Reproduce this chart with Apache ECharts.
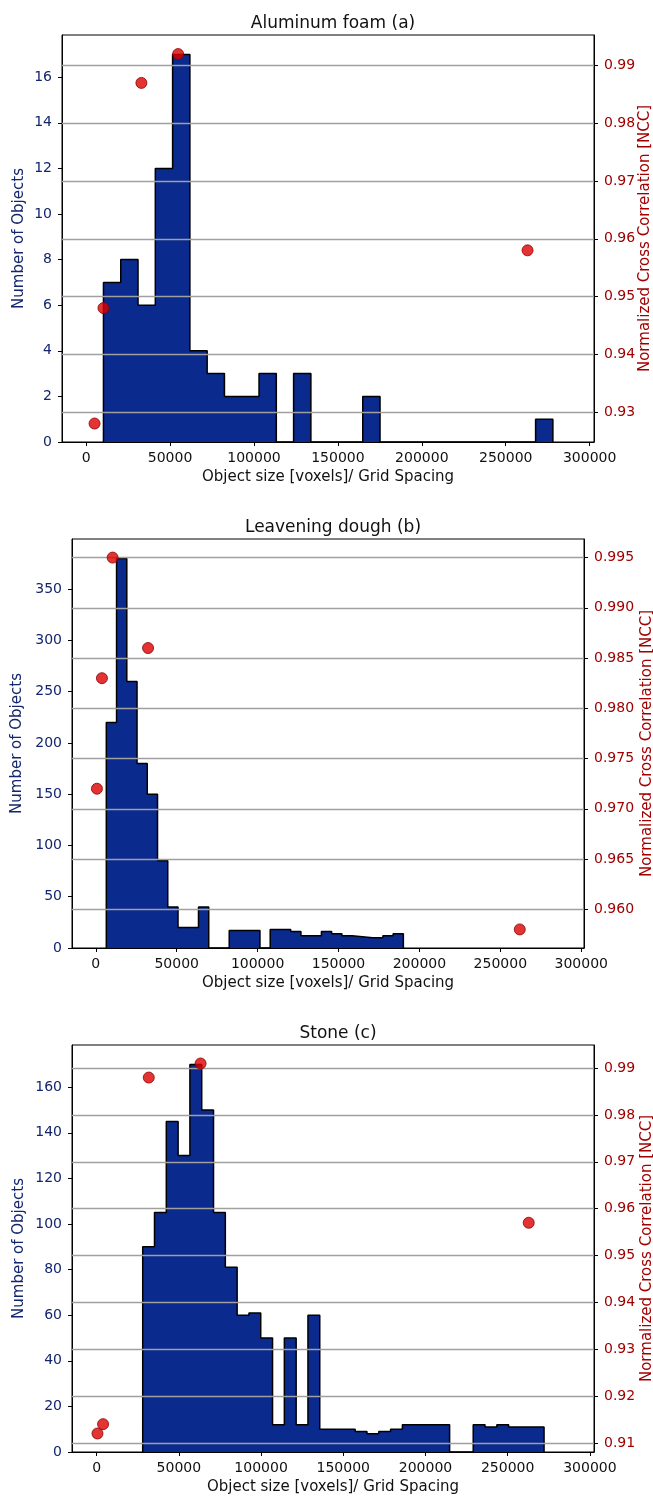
<!DOCTYPE html>
<html><head><meta charset="utf-8">
<script src="https://cdn.jsdelivr.net/npm/echarts@6/dist/echarts.min.js"></script>
<style>html,body{margin:0;padding:0;background:#fff}#c{width:653px;height:1496px}</style>
</head><body><div id="c"></div>
<script>
// ---------- data ----------
const panelTitles = ['Aluminum foam (a)', 'Leavening dough (b)', 'Stone (c)'];
const xAxisName = 'Object size [voxels]/ Grid Spacing';
const leftAxisName = 'Number of Objects';
const rightAxisName = 'Normalized Cross Correlation [NCC]';
const xTickValues = [0, 50000, 100000, 150000, 200000, 250000, 300000];

// (a) Aluminum foam
const foamBinStart = 10300;
const foamBinWidth = 10300;
const foamCounts = [7, 8, 6, 12, 17, 4, 3, 2, 2, 3, 0, 3, 0, 0, 0, 2, 0, 0, 0, 0, 0, 0, 0, 0, 0, 1];
const foamNccSize = [5000, 10300, 32900, 54800, 263000];
const foamNcc = [0.928, 0.948, 0.987, 0.992, 0.958];
const foamCountTicks = [0, 2, 4, 6, 8, 10, 12, 14, 16];
const foamNccTicks = [0.93, 0.94, 0.95, 0.96, 0.97, 0.98, 0.99];

// (b) Leavening dough
const doughBinStart = 6500;
const doughBinWidth = 6330;
const doughCounts = [220, 380, 260, 180, 150, 85, 40, 20, 20, 40, 0, 0, 17, 17, 17, 0, 18, 18, 16, 12, 12, 16, 14, 12, 11, 10, 10, 12, 14];
const doughNccSize = [700, 3800, 10400, 32300, 262000];
const doughNcc = [0.972, 0.983, 0.995, 0.986, 0.958];
const doughCountTicks = [0, 50, 100, 150, 200, 250, 300, 350];
const doughNccTicks = [0.960, 0.965, 0.970, 0.975, 0.980, 0.985, 0.990, 0.995];

// (c) Stone
const stoneBinStart = 28000;
const stoneBinWidth = 7180;
const stoneCounts = [90, 105, 145, 130, 170, 150, 105, 81, 60, 61, 50, 12, 50, 12, 60, 10, 10, 10, 9, 8, 9, 10, 12, 12, 12, 12, 0, 0, 12, 11, 12, 11, 11, 11];
const stoneNccSize = [500, 3900, 31700, 63200, 262800];
const stoneNcc = [0.912, 0.914, 0.988, 0.991, 0.957];
const stoneCountTicks = [0, 20, 40, 60, 80, 100, 120, 140, 160];
const stoneNccTicks = [0.91, 0.92, 0.93, 0.94, 0.95, 0.96, 0.97, 0.98, 0.99];

// ---------- build ----------
function stepData(start, width, counts) {
  const pts = [[start, 0]];
  counts.forEach((v, i) => pts.push([start + i * width, v]));
  const end = start + counts.length * width;
  pts.push([end, counts[counts.length - 1]]);
  pts.push([end, 0]);
  return pts;
}
function pairs(xs, ys) { return xs.map((x, i) => [x, ys[i]]); }

const FONT = 'DejaVu Sans';
const NAVY = '#13256e';
const DARKRED = '#a00000';
const BAR = '#0a2a8e';

const panels = [
  { title: panelTitles[0], grid: { left: 62, top: 35, width: 532, height: 407 }, titleTop: 10, titleX: 328,
    xmin: -14400, xmax: 302600, lmax: 17.85, rmin: 0.9248, rmax: 0.9953,
    start: foamBinStart, width: foamBinWidth, counts: foamCounts, ncc: pairs(foamNccSize, foamNcc),
    lticks: foamCountTicks, rticks: foamNccTicks, rdec: 2, lgap: 35, rgap: 44 },
  { title: panelTitles[1], grid: { left: 72, top: 539, width: 512, height: 409 }, titleTop: 514, titleX: 328,
    xmin: -14700, xmax: 301700, lmax: 399, rmin: 0.95615, rmax: 0.99685,
    start: doughBinStart, width: doughBinWidth, counts: doughCounts, ncc: pairs(doughNccSize, doughNcc),
    lticks: doughCountTicks, rticks: doughNccTicks, rdec: 3, lgap: 47, rgap: 56 },
  { title: panelTitles[2], grid: { left: 72, top: 1045, width: 522, height: 407 }, titleTop: 1020, titleX: 333,
    xmin: -15000, xmax: 302500, lmax: 178.5, rmin: 0.90805, rmax: 0.99495,
    start: stoneBinStart, width: stoneBinWidth, counts: stoneCounts, ncc: pairs(stoneNccSize, stoneNcc),
    lticks: stoneCountTicks, rticks: stoneNccTicks, rdec: 2, lgap: 45, rgap: 46 }
];

const option = { animation: false, backgroundColor: '#fff', textStyle: { fontFamily: FONT },
  title: [], grid: [], xAxis: [], yAxis: [], series: [] };

panels.forEach((p, i) => {
  option.title.push({ text: p.title, left: p.titleX, top: p.titleTop, textAlign: 'center',
    textStyle: { fontFamily: FONT, fontSize: 17, fontWeight: 'normal', color: '#111' } });
  option.grid.push(Object.assign({ show: true, borderColor: '#000', borderWidth: 1, backgroundColor: 'transparent',
    containLabel: false, outerBoundsMode: 'none' }, p.grid));
  option.xAxis.push({ type: 'value', gridIndex: i, min: p.xmin, max: p.xmax,
    name: xAxisName, nameLocation: 'middle', nameGap: 28, nameMoveOverlap: false,
    nameTextStyle: { fontFamily: FONT, fontSize: 15, color: '#111' },
    axisLine: { show: true, onZero: false, lineStyle: { color: '#000', width: 1 } },
    axisTick: { show: true, length: 4, customValues: xTickValues, lineStyle: { color: '#000' } },
    axisLabel: { customValues: xTickValues, fontFamily: FONT, fontSize: 14, color: '#111', margin: 9,
      formatter: v => String(Math.round(v)) },
    splitLine: { show: false } });
  option.yAxis.push({ type: 'value', gridIndex: i, position: 'left', min: 0, max: p.lmax,
    name: leftAxisName, nameLocation: 'middle', nameGap: p.lgap, nameRotate: 90, nameMoveOverlap: false,
    nameTextStyle: { fontFamily: FONT, fontSize: 15, color: NAVY },
    axisLine: { show: true, onZero: false, lineStyle: { color: '#000' } },
    axisTick: { show: true, length: 4, customValues: p.lticks, lineStyle: { color: '#000' } },
    axisLabel: { customValues: p.lticks, fontFamily: FONT, fontSize: 14, color: NAVY, margin: 10 },
    splitLine: { show: false } });
  option.yAxis.push({ type: 'value', gridIndex: i, position: 'right', min: p.rmin, max: p.rmax, z: 3,
    name: rightAxisName, nameLocation: 'middle', nameGap: p.rgap, nameRotate: 90, nameMoveOverlap: false,
    nameTextStyle: { fontFamily: FONT, fontSize: 15, color: DARKRED },
    axisLine: { show: true, onZero: false, lineStyle: { color: '#000' } },
    axisTick: { show: true, length: 4, customValues: p.rticks, lineStyle: { color: '#000' } },
    axisLabel: { customValues: p.rticks, fontFamily: FONT, fontSize: 14, color: DARKRED, margin: 10,
      formatter: v => v.toFixed(p.rdec) },
    splitLine: { show: true, lineStyle: { color: '#a0a0a0', width: 1.3 } } });
  option.series.push({ type: 'line', xAxisIndex: i, yAxisIndex: 2 * i, step: 'end', z: 2,
    data: stepData(p.start, p.width, p.counts), showSymbol: false, symbol: 'none',
    lineStyle: { color: '#000', width: 1.5 }, areaStyle: { color: BAR, opacity: 1 } });
  option.series.push({ type: 'scatter', xAxisIndex: i, yAxisIndex: 2 * i + 1, z: 6,
    data: p.ncc, symbolSize: 11,
    itemStyle: { color: '#dd0000', borderColor: '#8a0000', borderWidth: 1 } });
});

const chart = echarts.init(document.getElementById('c'), null, { renderer: 'canvas', width: 653, height: 1496 });
chart.setOption(option);
</script>
</body></html>
